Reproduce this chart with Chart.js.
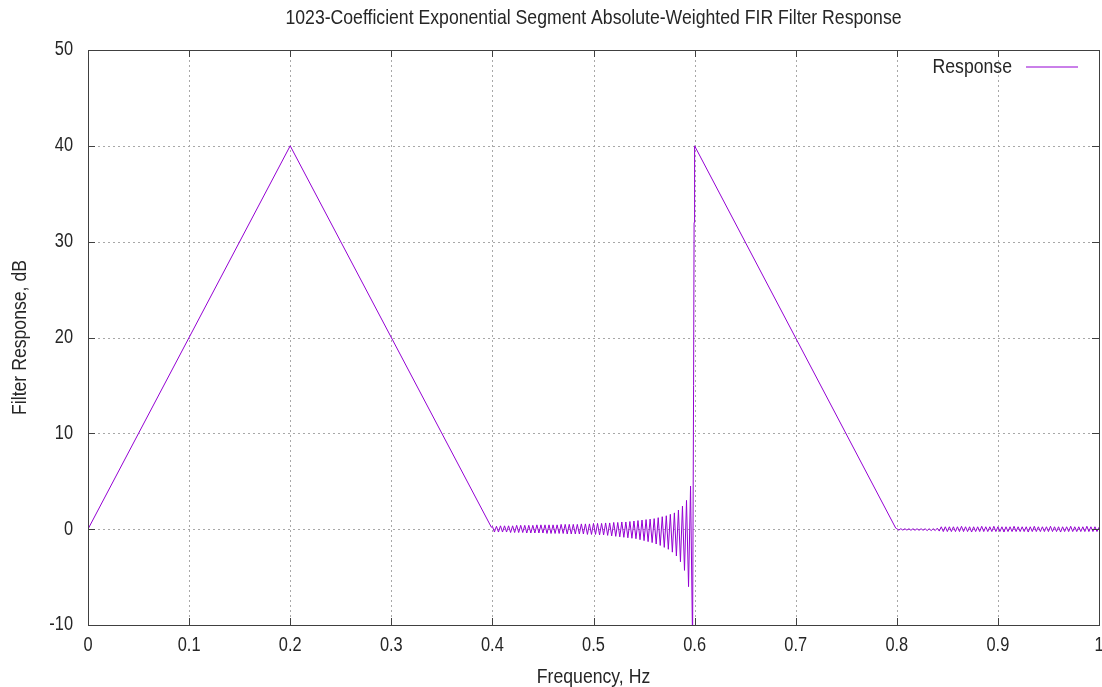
<!DOCTYPE html>
<html lang="en">
<head>
<meta charset="UTF-8" />
<title>FIR Filter Response</title>
<script src="https://cdn.jsdelivr.net/npm/chart.js"></script>
<style>
  body { margin: 0; background: #fff; }
  #wrap { width: 1102px; height: 687px; }
</style>
</head>
<body>
<div id="wrap"><canvas id="resp"></canvas></div>
<script>
const chartTitle = '1023-Coefficient Exponential Segment Absolute-Weighted FIR Filter Response';
const seriesName = 'Response';
const xAxisTitle = 'Frequency, Hz';
const yAxisTitle = 'Filter Response, dB';
const xTicks = [0, 0.1, 0.2, 0.3, 0.4, 0.5, 0.6, 0.7, 0.8, 0.9, 1];
const xTickLabels = ['0', '0.1', '0.2', '0.3', '0.4', '0.5', '0.6', '0.7', '0.8', '0.9', '1'];
const yTicks = [-10, 0, 10, 20, 30, 40, 50];
const yTickLabels = ['-10', '0', '10', '20', '30', '40', '50'];

// first triangle
const riseFreq = [0, 0.2, 0.399];
const riseDb = [0, 40, 0.2];

// ripple band 0.4 .. 0.6
const transFreq = [
  0.400, 0.402, 0.404, 0.406, 0.408, 0.410, 0.412, 0.414, 0.416, 0.418,
  0.420, 0.422, 0.424, 0.426, 0.428, 0.430, 0.432, 0.434, 0.436, 0.438,
  0.440, 0.442, 0.444, 0.446, 0.448, 0.450, 0.452, 0.454, 0.456, 0.458,
  0.460, 0.462, 0.464, 0.466, 0.468, 0.470, 0.472, 0.474, 0.476, 0.478,
  0.480, 0.482, 0.484, 0.486, 0.488, 0.490, 0.492, 0.494, 0.496, 0.498,
  0.500, 0.502, 0.504, 0.506, 0.508, 0.510, 0.512, 0.514, 0.516, 0.518,
  0.520, 0.522, 0.524, 0.526, 0.528, 0.530, 0.532, 0.534, 0.536, 0.538,
  0.540, 0.542, 0.544, 0.546, 0.548, 0.550, 0.552, 0.554, 0.556, 0.558,
  0.560, 0.562, 0.564, 0.566, 0.568, 0.570, 0.572, 0.574, 0.576, 0.578,
  0.580, 0.582, 0.584, 0.586, 0.588, 0.590, 0.592, 0.594, 0.596, 0.598
];
const transDb = [
  0.3, -0.3, 0.3, -0.3, 0.35, -0.3, 0.35, -0.3, 0.35, -0.35,
  0.35, -0.35, 0.4, -0.35, 0.4, -0.35, 0.4, -0.4, 0.4, -0.4,
  0.4, -0.4, 0.45, -0.4, 0.45, -0.4, 0.45, -0.45, 0.45, -0.45,
  0.45, -0.45, 0.45, -0.45, 0.5, -0.45, 0.5, -0.5, 0.5, -0.5,
  0.5, -0.5, 0.5, -0.5, 0.55, -0.5, 0.55, -0.55, 0.55, -0.55,
  0.6, -0.55, 0.6, -0.6, 0.6, -0.6, 0.65, -0.65, 0.65, -0.7,
  0.7, -0.75, 0.7, -0.8, 0.75, -0.85, 0.75, -0.9, 0.8, -0.95,
  0.85, -1.0, 0.9, -1.1, 0.95, -1.2, 1.0, -1.3, 1.05, -1.4,
  1.1, -1.55, 1.2, -1.7, 1.3, -1.9, 1.4, -2.1, 1.55, -2.4,
  1.7, -2.8, 2.0, -3.4, 2.4, -4.3, 3.0, -6.0, 4.5, -12
];

// jump to the second peak and its slope down
const spikeFreq = [0.599, 0.5995, 0.6, 0.799];
const spikeDb = [15, 32, 40, 0.1];

// small ripple 0.8 .. 1.0
const tailFreq = [
  0.800, 0.802, 0.804, 0.806, 0.808, 0.810, 0.812, 0.814, 0.816, 0.818,
  0.820, 0.822, 0.824, 0.826, 0.828, 0.830, 0.832, 0.834, 0.836, 0.838,
  0.840, 0.842, 0.844, 0.846, 0.848, 0.850, 0.852, 0.854, 0.856, 0.858,
  0.860, 0.862, 0.864, 0.866, 0.868, 0.870, 0.872, 0.874, 0.876, 0.878,
  0.880, 0.882, 0.884, 0.886, 0.888, 0.890, 0.892, 0.894, 0.896, 0.898,
  0.900, 0.902, 0.904, 0.906, 0.908, 0.910, 0.912, 0.914, 0.916, 0.918,
  0.920, 0.922, 0.924, 0.926, 0.928, 0.930, 0.932, 0.934, 0.936, 0.938,
  0.940, 0.942, 0.944, 0.946, 0.948, 0.950, 0.952, 0.954, 0.956, 0.958,
  0.960, 0.962, 0.964, 0.966, 0.968, 0.970, 0.972, 0.974, 0.976, 0.978,
  0.980, 0.982, 0.984, 0.986, 0.988, 0.990, 0.992, 0.994, 0.996, 0.998,
  1.000
];
const tailDb = [
  0.05, -0.1, 0.05, -0.1, 0.05, -0.1, 0.05, -0.12, 0.05, -0.12,
  0.05, -0.12, 0.05, -0.12, 0.05, -0.15, 0.05, -0.15, 0.05, -0.15,
  0.1, -0.2, 0.25, -0.25, 0.25, -0.25, 0.25, -0.25, 0.25, -0.25,
  0.25, -0.25, 0.3, -0.25, 0.25, -0.25, 0.25, -0.3, 0.25, -0.25,
  0.25, -0.25, 0.3, -0.25, 0.25, -0.25, 0.25, -0.25, 0.3, -0.25,
  0.25, -0.25, 0.25, -0.3, 0.25, -0.25, 0.25, -0.25, 0.3, -0.25,
  0.25, -0.25, 0.25, -0.25, 0.25, -0.3, 0.25, -0.25, 0.3, -0.25,
  0.25, -0.25, 0.25, -0.25, 0.25, -0.25, 0.3, -0.25, 0.25, -0.25,
  0.25, -0.3, 0.25, -0.25, 0.25, -0.25, 0.3, -0.25, 0.25, -0.25,
  0.25, -0.25, 0.25, -0.25, 0.3, -0.25, 0.25, -0.25, 0.25, -0.25,
  0.2
];

const freqHz = [].concat(riseFreq, transFreq, spikeFreq, tailFreq);
const responseDb = [].concat(riseDb, transDb, spikeDb, tailDb);
const points = freqHz.map((f, i) => ({ x: f, y: responseDb[i] }));

const lineColor = '#9400d3';
const frameColor = '#404040';
const textColor = '#262626';
const FONT = '"Liberation Sans", Arial, sans-serif';
const SQUEEZE = 0.84; // gnuplot's font is narrower than Arial

// text helper: narrow glyphs by squeezing horizontally
function label(ctx, text, x, y, size, align, rot) {
  ctx.save();
  ctx.translate(x, y);
  if (rot) ctx.rotate(rot);
  ctx.scale(SQUEEZE, 1);
  ctx.font = size + 'px ' + FONT;
  ctx.fillStyle = textColor;
  ctx.textAlign = align;
  ctx.textBaseline = 'middle';
  ctx.fillText(text, 0, 0);
  ctx.restore();
}

// gnuplot look: dotted grid, inward ticks on all sides, framed box, texts, key
const gnuplotLook = {
  id: 'gnuplotLook',
  beforeDatasetsDraw(chart) {
    const { ctx, chartArea: a } = chart;
    const x = chart.scales.x, y = chart.scales.y;
    ctx.save();
    ctx.strokeStyle = '#a8a8a8';
    ctx.lineWidth = 1;
    ctx.setLineDash([2, 3]);
    xTicks.forEach(v => {
      const px = Math.round(x.getPixelForValue(v)) + 0.5;
      ctx.beginPath(); ctx.moveTo(px, a.top); ctx.lineTo(px, a.bottom); ctx.stroke();
    });
    yTicks.forEach(v => {
      const py = Math.round(y.getPixelForValue(v)) + 0.5;
      ctx.beginPath(); ctx.moveTo(a.left, py); ctx.lineTo(a.right, py); ctx.stroke();
    });
    ctx.restore();
  },
  afterDraw(chart) {
    const { ctx, chartArea: a } = chart;
    const x = chart.scales.x, y = chart.scales.y;
    ctx.save();
    ctx.strokeStyle = frameColor;
    ctx.lineWidth = 1;
    const t = 7;
    ctx.beginPath();
    xTicks.forEach(v => {
      const px = Math.round(x.getPixelForValue(v)) + 0.5;
      ctx.moveTo(px, a.bottom); ctx.lineTo(px, a.bottom - t);
      ctx.moveTo(px, a.top); ctx.lineTo(px, a.top + t);
    });
    yTicks.forEach(v => {
      const py = Math.round(y.getPixelForValue(v)) + 0.5;
      ctx.moveTo(a.left, py); ctx.lineTo(a.left + t, py);
      ctx.moveTo(a.right, py); ctx.lineTo(a.right - t, py);
    });
    ctx.stroke();
    ctx.strokeRect(Math.round(a.left) + 0.5, Math.round(a.top) + 0.5,
      Math.round(a.right - a.left), Math.round(a.bottom - a.top));
    ctx.restore();

    // tick labels
    xTicks.forEach((v, i) => label(ctx, xTickLabels[i], x.getPixelForValue(v), a.bottom + 21, 19.5, 'center'));
    yTicks.forEach((v, i) => label(ctx, yTickLabels[i], a.left - 15, y.getPixelForValue(v), 19.5, 'right'));

    // titles
    const cx = (a.left + a.right) / 2;
    label(ctx, chartTitle, cx, 18, 21, 'center');
    label(ctx, xAxisTitle, cx, 677, 21, 'center');
    label(ctx, yAxisTitle, 20, (a.top + a.bottom) / 2, 21, 'center', -Math.PI / 2);

    // key
    label(ctx, seriesName, 1012, 67, 21, 'right');
    ctx.save();
    ctx.strokeStyle = lineColor;
    ctx.lineWidth = 1;
    ctx.beginPath(); ctx.moveTo(1026, 67); ctx.lineTo(1078, 67); ctx.stroke();
    ctx.restore();
  }
};

new Chart(document.getElementById('resp'), {
  type: 'line',
  data: {
    datasets: [{
      label: seriesName,
      data: points,
      borderColor: lineColor,
      borderWidth: 1,
      pointRadius: 0,
      tension: 0,
      fill: false
    }]
  },
  plugins: [gnuplotLook],
  options: {
    responsive: true,
    maintainAspectRatio: false,
    animation: false,
    layout: { padding: { top: 50, right: 3, left: 0, bottom: 0 } },
    plugins: { legend: { display: false }, tooltip: { enabled: false }, title: { display: false } },
    scales: {
      x: {
        type: 'linear',
        min: 0, max: 1,
        afterBuildTicks: s => { s.ticks = xTicks.map(v => ({ value: v })); },
        afterFit: s => { s.height = 62; s.paddingLeft = 0; s.paddingRight = 0; },
        ticks: { display: false },
        grid: { display: false, drawTicks: false },
        border: { display: false }
      },
      y: {
        min: -10, max: 50,
        afterBuildTicks: s => { s.ticks = yTicks.map(v => ({ value: v })); },
        afterFit: s => { s.width = 88; s.paddingTop = 0; s.paddingBottom = 0; },
        ticks: { display: false },
        grid: { display: false, drawTicks: false },
        border: { display: false }
      }
    }
  }
});
</script>
</body>
</html>
